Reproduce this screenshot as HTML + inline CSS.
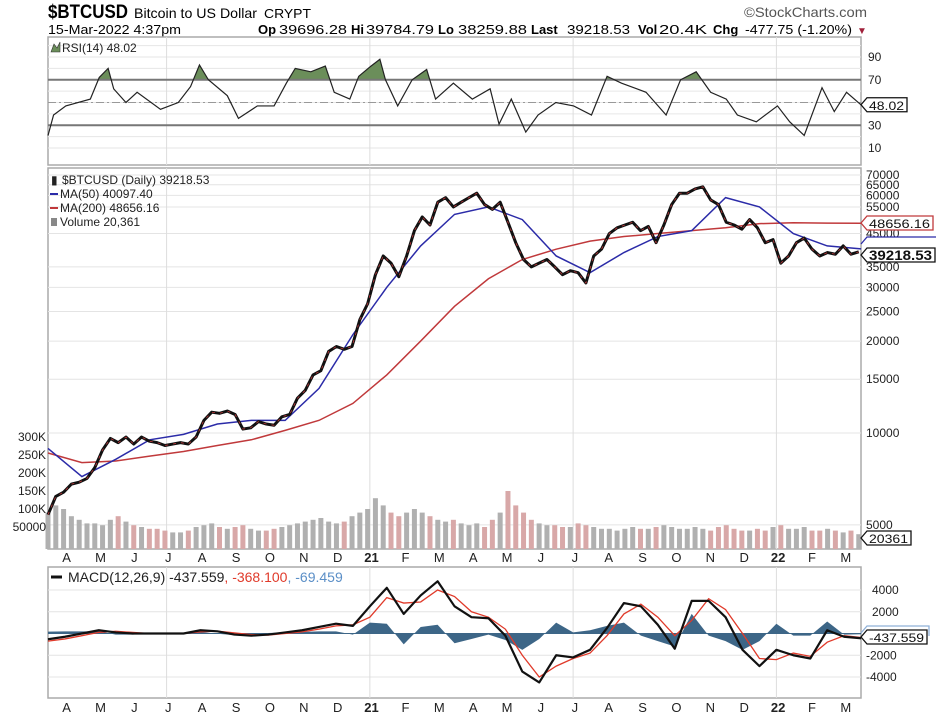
<!DOCTYPE html>
<html><head><meta charset="utf-8"><style>
body{margin:0;background:#fff;}
svg{display:block;font-family:"Liberation Sans",Arial,sans-serif;}
.ax{font-size:12px;fill:#222;}
.mo{font-size:13px;fill:#222;text-anchor:middle;}
</style></head><body>
<svg id="c" width="936" height="716" viewBox="0 0 936 716">
<g>
<text x="48" y="18" font-size="19" font-weight="bold" textLength="80" lengthAdjust="spacingAndGlyphs">$BTCUSD</text>
<text x="134" y="18" font-size="14" textLength="123" lengthAdjust="spacingAndGlyphs">Bitcoin to US Dollar</text>
<text x="264" y="18" font-size="13" textLength="47" lengthAdjust="spacingAndGlyphs">CRYPT</text>
<text x="744" y="17" font-size="14" fill="#555" textLength="123" lengthAdjust="spacingAndGlyphs">©StockCharts.com</text>
<text x="48" y="34" font-size="13" textLength="133" lengthAdjust="spacingAndGlyphs">15-Mar-2022 4:37pm</text>
<g font-size="13">
<text x="258" y="34" font-weight="bold">Op</text><text x="279" y="34" textLength="68" lengthAdjust="spacingAndGlyphs">39696.28</text>
<text x="351" y="34" font-weight="bold">Hi</text><text x="366" y="34" textLength="68" lengthAdjust="spacingAndGlyphs">39784.79</text>
<text x="438" y="34" font-weight="bold">Lo</text><text x="458" y="34" textLength="69" lengthAdjust="spacingAndGlyphs">38259.88</text>
<text x="531" y="34" font-weight="bold">Last</text><text x="567" y="34" textLength="63" lengthAdjust="spacingAndGlyphs">39218.53</text>
<text x="638" y="34" font-weight="bold">Vol</text><text x="659" y="34" textLength="48" lengthAdjust="spacingAndGlyphs">20.4K</text>
<text x="713" y="34" font-weight="bold">Chg</text><text x="745" y="34" textLength="107" lengthAdjust="spacingAndGlyphs">-477.75 (-1.20%)</text>
<text x="857" y="34" font-size="10" fill="#a0203a">▼</text>
</g>
</g>
<g id="grid"></g>
<g id="marks"></g>
<g id="labels"></g>
</svg>
<script>
// ---- data ----
const priceCloses=[5400,6200,6400,6800,6900,7100,7700,8800,9600,9300,9700,9200,9700,9400,9300,9100,9200,9300,9200,9700,11000,11700,11600,11800,11500,10300,10400,10900,10700,10600,11300,11500,13000,13800,15500,16000,18500,19200,18800,19200,23500,26500,33000,38000,36000,32500,38000,46000,51000,48000,57000,59000,55000,57000,59000,61000,56000,54000,57000,49000,42000,37000,35000,36000,37000,35000,33000,34000,33500,31000,38000,40000,45000,47000,48000,49000,46000,47500,42000,48000,56000,61000,61000,63000,64000,58000,56000,49000,48000,46500,50000,47000,42000,43000,36000,38000,42000,43500,40000,38000,39000,38500,41000,38500,39200];
const volumeK=[90,110,100,80,70,60,60,55,70,80,65,55,50,45,45,40,35,35,40,50,55,60,50,45,50,55,45,40,40,45,50,55,60,65,70,75,65,60,65,80,90,100,130,110,90,80,90,100,90,80,70,65,70,60,55,60,50,70,90,150,110,90,70,60,55,55,50,50,60,55,50,45,45,40,45,50,45,45,50,55,50,45,45,50,45,40,50,55,45,40,40,45,40,50,55,45,45,50,40,40,45,40,35,40,30];
const ma50=[8900,7200,8200,9500,9900,10700,11000,11000,14000,21000,30000,41000,52000,55000,50000,38000,33500,39000,44000,46000,59000,55000,45000,41000,40097];
const ma200=[8600,8000,8100,8400,8700,9100,9500,10200,11000,12500,15500,20000,26000,32000,37000,40000,42500,44000,45000,46000,47000,48500,48800,48700,48656];
const macdLine=[-530,-300,0,300,100,0,0,0,0,300,200,-100,-200,-100,100,300,600,900,700,2500,4200,1800,3500,4800,2500,1500,1400,-200,-3500,-4500,-2000,-2200,-1500,500,2800,2500,800,-1400,3000,3000,1500,-1500,-3000,-1500,-2000,-2300,300,-300,-438];
const macdSignal=[-700,-500,-200,100,200,100,0,0,0,150,220,50,-100,-150,0,150,400,700,800,1500,3300,2800,2900,4000,3400,2000,1500,400,-2000,-4000,-3000,-2300,-1800,-200,1800,2700,1500,-200,1200,3200,2200,0,-2300,-2400,-1800,-2100,-800,-200,-368];
const rsiDays=[0,5,16,38,46,54,59,70,80,101,117,128,136,144,161,171,188,203,214,222,236,249,257,271,279,290,298,303,314,327,340,348,364,381,397,405,416,429,440,456,472,488,502,515,537,555,568,582,595,609,619,636,655,666,679,695,706,717,730];
const rsiVals=[21,39,47,53,72,80,62,50,59,44,50,64,83,70,56,36,47,47,67,80,77,82,59,53,73,82,88,70,47,70,79,53,67,53,62,31,53,24,39,50,47,39,73,67,59,39,70,77,59,53,39,33,47,33,21,63,42,59,48];
const monthLabels=["A","M","J","J","A","S","O","N","D","21","F","M","A","M","J","J","A","S","O","N","D","22","F","M"];
const priceTicks=[70000,65000,60000,55000,45000,35000,30000,25000,20000,15000,10000,5000];
const volTicks=[300,250,200,150,100,50];
const rsiTicks=[90,70,30,10];
const macdTicks=[4000,2000,-2000,-4000];

// ---- scales ----
const X0=48,X1=861,TOTAL_DAYS=730;
const xDay=d=>X0+d*(X1-X0)/TOTAL_DAYS;
const yPrice=p=>433-132.6*Math.log(p/10000);
const yVol=v=>545-v*18/50;
const yRsi=v=>148-(v-10)*1.1375;
const yMacd=v=>633.5-v*10.875/1000;
const weekDay=i=>i*7;
const monthDay=m=>m*30.42;
const halfDay=k=>k*15.21;

const NS="http://www.w3.org/2000/svg";
function mk(tag,parent,attrs){const e=document.createElementNS(NS,tag);for(const k in attrs)e.setAttribute(k,attrs[k]);parent.appendChild(e);return e;}
const G=document.getElementById('grid'),M=document.getElementById('marks'),L=document.getElementById('labels');

[[37,165,'rsi-panel'],[168,549,'price-panel'],[567,698,'macd-panel']].forEach(p=>{
 const r=mk('rect',G,{x:X0,y:p[0],width:X1-X0,height:p[1]-p[0],fill:'#fff',stroke:'#aaa','stroke-width':1.5});
 
 
});
for(let v=10;v<=100;v+=10){const l=mk('line',G,{x1:X0,x2:X1,y1:yRsi(v),y2:yRsi(v),stroke:'#e6e6e6'});}
priceTicks.forEach(p=>{const l=mk('line',G,{x1:X0,x2:X1,y1:yPrice(p),y2:yPrice(p),stroke:'#e4e4e4'});});
[-4000,-2000,0,2000,4000].forEach(v=>{const l=mk('line',G,{x1:X0,x2:X1,y1:yMacd(v),y2:yMacd(v),stroke:'#e4e4e4'});});
[3.5,9.5,15.5,21.5].forEach(m=>{const x=xDay(monthDay(m));[[37,165],[168,549],[567,698]].forEach(p=>{const l=mk('line',G,{x1:x,x2:x,y1:p[0],y2:p[1],stroke:'#ddd'});});});

// RSI
const cp=mk('clipPath',M,{id:'ob'});mk('rect',cp,{x:X0,y:37,width:X1-X0,height:yRsi(70)-37});
let rpts=rsiDays.map((d,i)=>xDay(d)+','+yRsi(rsiVals[i]));
const fillPoly=mk('polygon',M,{points:xDay(0)+','+yRsi(70)+' '+rpts.join(' ')+' '+xDay(730)+','+yRsi(70),fill:'#6b8e5a','clip-path':'url(#ob)'});


[70,30].forEach(v=>{const l=mk('line',M,{x1:X0,x2:X1,y1:yRsi(v),y2:yRsi(v),stroke:'#777','stroke-width':2});});
const mid=mk('line',M,{x1:X0,x2:X1,y1:yRsi(50),y2:yRsi(50),stroke:'#999','stroke-dasharray':'8 3 2 3'});


const rl=mk('polyline',M,{points:rpts.join(' '),fill:'none',stroke:'#222','stroke-width':1.2});



// volume
volumeK.forEach((v,i)=>{const x=xDay(weekDay(i));const up=i===0||priceCloses[i]>=priceCloses[i-1];
 const b=mk('rect',M,{x:x-2.5,y:yVol(v),width:5,height:549-yVol(v),fill:up?'#b0b0b0':'#d8a8a8'});
 
 });
const m200=mk('polyline',M,{points:ma200.map((v,i)=>xDay(monthDay(i))+','+yPrice(v)).join(' '),fill:'none',stroke:'#c0393b','stroke-width':1.5});


const m50=mk('polyline',M,{points:ma50.map((v,i)=>xDay(monthDay(i))+','+yPrice(v)).join(' '),fill:'none',stroke:'#2b2ba8','stroke-width':1.5});


const pp=priceCloses.map((v,i)=>xDay(weekDay(i))+','+yPrice(v)).join(' ');
const pl=mk('polyline',M,{points:pp,fill:'none',stroke:'#111','stroke-width':3,'stroke-linejoin':'round'});


const pr=mk('polyline',M,{points:pp,fill:'none',stroke:'#c0393b','stroke-width':0.8,'stroke-dasharray':'3 5'});



// MACD histogram as area
const hpts=macdLine.map((v,k)=>xDay(halfDay(k))+','+yMacd(v-macdSignal[k]));
const hist=mk('polygon',M,{points:xDay(0)+','+yMacd(0)+' '+hpts.join(' ')+' '+xDay(halfDay(macdLine.length-1))+','+yMacd(0),fill:'#3d6687'});


const z=mk('line',M,{x1:X0,x2:X1,y1:yMacd(0),y2:yMacd(0),stroke:'#3d6687','stroke-width':1});


const sg=mk('polyline',M,{points:macdSignal.map((v,k)=>xDay(halfDay(k))+','+yMacd(v)).join(' '),fill:'none',stroke:'#e03a2a','stroke-width':1.3});


const ml=mk('polyline',M,{points:macdLine.map((v,k)=>xDay(halfDay(k))+','+yMacd(v)).join(' '),fill:'none',stroke:'#111','stroke-width':2.2,'stroke-linejoin':'round'});



function txt(x,y,s,cls,name,extra){const t=mk('text',L,Object.assign({x:x,y:y,class:cls},extra||{}));t.textContent=s;return t;}
rsiTicks.forEach(v=>txt(868,yRsi(v)+4,String(v),'ax','rsi-tick-label'));
priceTicks.forEach(p=>txt(866,yPrice(p)+4,String(p),'ax','price-tick-label'));
volTicks.forEach(v=>txt(46,yVol(v)+4,v===50?'50000':v+'K','ax','volume-tick-label',{'text-anchor':'end'}));
macdTicks.forEach(v=>txt(v<0?866:872,yMacd(v)+4,String(v),'ax','macd-tick-label'));
monthLabels.forEach((s,i)=>{const x=xDay(monthDay(i+0.55));const bold=s.length>1?{'font-weight':'bold'}:{};
 txt(x,562,s,'mo','month-label-upper',bold);txt(x,712,s,'mo','month-label-lower',bold);});

function tag(y,s,stroke,bold,name,tw){const g=mk('g',L,{});
 mk('path',g,{d:`M861,${y} l6,-7 h${tw} v14 h-${tw} z`,fill:'#fff',stroke:stroke,'stroke-width':1.3});
 const t=mk('text',g,{x:869,y:y+5,'font-size':bold?14:12,'font-weight':bold?'bold':'normal',fill:'#111',textLength:tw-5,lengthAdjust:'spacingAndGlyphs'});t.textContent=s;}
tag(yRsi(48.02),'48.02','#111',false,'rsi-value-tag',40);
mk('path',L,{d:'M861,244 l6,-7 h70 v10',fill:'none',stroke:'#2b2ba8','stroke-width':1.3});
tag(223,'48656.16','#c0393b',false,'ma200-value-tag',66);
tag(255,'39218.53','#111',true,'last-price-tag',68);
tag(538,'20361','#111',false,'volume-value-tag',44);
mk('path',L,{d:'M861,633 l6,-7 h62 v10',fill:'none',stroke:'#8fb0d8','stroke-width':1.3});
tag(637,'-437.559','#111',false,'macd-value-tag',60);

txt(62,52,'RSI(14) 48.02','ax','rsi-legend',{'font-size':13});
mk('path',L,{d:'M51,52 l3,-8 l3,4 l3,-6 v10 z',fill:'#6b8e5a',stroke:'#333','stroke-width':0.6});
txt(62,184,'$BTCUSD (Daily) 39218.53','ax','price-legend',{'font-size':13});
txt(51,184,'▮','ax','price-legend-icon',{'font-size':10});
mk('line',L,{x1:50,x2:58,y1:194,y2:194,stroke:'#2b2ba8','stroke-width':2});
txt(60,198,'MA(50) 40097.40','ax','ma50-legend',{fill:'#2b2ba8'});
mk('line',L,{x1:50,x2:58,y1:208,y2:208,stroke:'#c0393b','stroke-width':2});
txt(60,212,'MA(200) 48656.16','ax','ma200-legend',{fill:'#c0393b'});
txt(60,226,'Volume 20,361','ax','volume-legend',{fill:'#555'});
mk('rect',L,{x:51,y:218,width:6,height:8,fill:'#888'});
mk('line',L,{x1:51,x2:62,y1:577,y2:577,stroke:'#111','stroke-width':3});
const mt=mk('text',L,{x:68,y:582,'font-size':14,fill:'#222'});


mt.innerHTML='MACD(12,26,9) -437.559<tspan fill="#e03a2a">, -368.100</tspan><tspan fill="#5b8fc7">, -69.459</tspan>';
</script>
</body></html>
